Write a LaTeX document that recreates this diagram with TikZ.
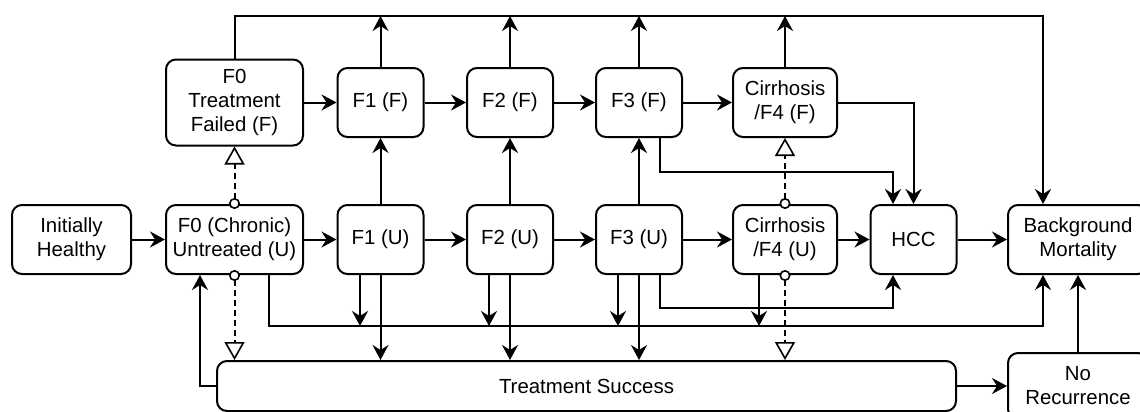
\documentclass[tikz,border=0pt]{standalone}
\usepackage{fontspec}
\setmainfont{Liberation Sans}
\usetikzlibrary{arrows.meta}

\begin{document}
\begin{tikzpicture}[x=0.5pt, y=-0.5pt, line width=1pt,
  state/.style={draw, rounded corners=5pt, align=center, inner sep=1pt,
    minimum width=43pt, minimum height=34.5pt, font=\fontsize{10.2}{12}\selectfont},
  flow/.style={-{Stealth[length=7.5pt,width=8pt,inset=2.5pt]}},
  switch/.style={dash pattern=on 3pt off 2pt, shorten <=-2.5pt,
    {Circle[length=5.5pt,fill=white,line width=0.8pt]}-{Triangle[length=9pt,width=10pt,fill=white,line width=0.8pt]}}]
  \useasboundingbox (0,0) rectangle (1140,412);
  \clip (0,0) rectangle (1140,412);
  % states
  \node[state, minimum width=59.5pt] (healthy) at (71.5,239.5) {Initially\\Healthy};
  \node[state, minimum width=68.5pt] (untr0) at (234.5,239.5) {F0 (Chronic)\\Untreated (U)};
  \node[state, minimum width=68.5pt, minimum height=43pt] (fail0) at (234.5,102.5) {F0\\Treatment\\Failed (F)};
  \node[state] (fail1) at (380.5,102.5) {F1 (F)};
  \node[state] (fail2) at (510,102.5) {F2 (F)};
  \node[state] (fail3) at (639,102.5) {F3 (F)};
  \node[state, minimum width=52pt] (fail4) at (785,102.5) {Cirrhosis\\/F4 (F)};
  \node[state] (untr1) at (380.5,239.5) {F1 (U)};
  \node[state] (untr2) at (510,239.5) {F2 (U)};
  \node[state] (untr3) at (639,239.5) {F3 (U)};
  \node[state, minimum width=52pt] (untr4) at (785,239.5) {Cirrhosis\\/F4 (U)};
  \node[state] (hcc) at (913.5,239.5) {HCC};
  \node[state, minimum width=70pt] (mort) at (1078,239.5) {Background\\Mortality};
  \node[state, minimum width=369.5pt, minimum height=25pt] (success) at (586.5,386) {Treatment Success};
  \node[state, minimum width=70pt, minimum height=33pt] (norec) at (1078,386) {No\\Recurrence};
  % bends
  \coordinate (top) at (1043,16);
  \coordinate (death) at (1043,326);
  \coordinate (hcctop) at (893,172);
  \coordinate (hccbot) at (893,308);
  % progression
  \foreach \a/\b in {healthy/untr0, untr0/untr1, untr1/untr2, untr2/untr3, untr3/untr4, untr4/hcc, hcc/mort}
    \draw[flow] (\a) -- (\b);
  \foreach \a/\b in {fail0/fail1, fail1/fail2, fail2/fail3, fail3/fail4}
    \draw[flow] (\a) -- (\b);
  \foreach \n in {1,2,3}
    \draw[flow] (untr\n) -- (fail\n);
  \foreach \n in {0,4}
    \draw[switch] (untr\n) -- (fail\n);
  % to background mortality
  \draw[flow] (fail0.north) |- (top) -- (top |- mort.north);
  \foreach \n in {1,2,3,4}
    \draw[flow] (fail\n.north) -- (fail\n.north |- top);
  \draw[flow] ([xshift=17.25pt]untr0.south) |- (death) -- (death |- mort.south);
  \foreach \n/\d in {1/-10.25, 2/-10.5, 3/-10.5, 4/-13}
    \draw[flow] ([xshift=\d pt]untr\n.south) -- ([xshift=\d pt]untr\n.south |- death);
  % to hcc
  \draw[flow] (fail4.east) -| (hcc.north);
  \draw[flow] ([xshift=10.5pt]fail3.south) |- (hcctop) -- (hcctop |- hcc.north);
  \draw[flow] ([xshift=10.5pt]untr3.south) |- (hccbot) -- (hccbot |- hcc.south);
  % treatment
  \foreach \n in {1,2,3}
    \draw[flow] (untr\n.south) -- (untr\n.south |- success.north);
  \foreach \n in {0,4}
    \draw[switch] (untr\n.south) -- (untr\n.south |- success.north);
  \draw[flow] (success.west) -| ([xshift=-17.25pt]untr0.south);
  \draw[flow] (success) -- (norec);
  \draw[flow] (norec) -- (mort);
\end{tikzpicture}
\end{document}
